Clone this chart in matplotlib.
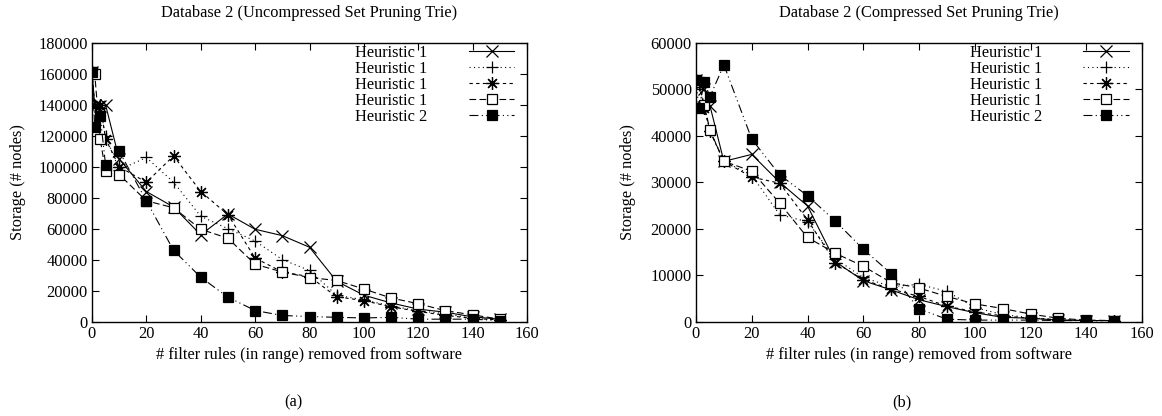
import matplotlib
matplotlib.use("Agg")
import matplotlib.pyplot as plt

plt.rcParams['font.family'] = ['Liberation Serif', 'DejaVu Serif']
plt.rcParams['font.size'] = 11.8

# number of filter rules removed (x axis)
removed = [0, 1, 3, 5, 10, 20, 30, 40, 50, 60, 70, 80, 90, 100, 110, 120, 130, 140, 150]

# uncompressed set pruning trie
unc_h1_cross = [161000, 140000, 139000, 140000, 105000, 84000, 74000, 56000, 69500, 59600,
                55500, 48000, 26000, 17000, 12000, 8000, 6000, 3000, 1500]
unc_h1_plus = [161000, 140000, 138000, 120000, 98000, 106000, 90000, 68000, 60000, 52000,
               40000, 33000, 17000, 14000, 10000, 7000, 5000, 2000, 1000]
unc_h1_star = [161000, 139000, 140000, 118000, 100000, 90000, 107000, 84000, 69000, 41000,
               32000, 29000, 16000, 13500, 9500, 6500, 4000, 2000, 1000]
unc_h1_box = [161000, 160000, 118000, 97000, 95000, 78000, 73500, 59600, 53800, 37000,
              32000, 28400, 26500, 21000, 15200, 11500, 7000, 4300, 1500]
unc_h2 = [161000, 126000, 133000, 101000, 110000, 78000, 46000, 28600, 15700, 7100,
          3900, 3200, 2700, 2300, 2700, 1500, 1500, 1500, 600]

# compressed set pruning trie
cmp_h1_cross = [52000, 51000, 50000, 46500, 34500, 36000, 30000, 24900, 12900, 8800,
                6800, 4700, 3200, 1900, 900, 700, 300, 200, 200]
cmp_h1_plus = [52000, 51000, 46000, 41000, 34500, 31500, 23000, 21500, 13500, 9500,
               7500, 8000, 6500, 3000, 1500, 800, 400, 200, 200]
cmp_h1_star = [52000, 51500, 46000, 41000, 34500, 31100, 29800, 21900, 12700, 9000,
               7000, 5400, 3300, 2100, 1200, 700, 400, 200, 200]
cmp_h1_box = [52000, 51500, 46600, 41200, 34500, 32400, 25500, 18100, 14700, 11900,
              8400, 7200, 5400, 3800, 2800, 1600, 700, 300, 200]
cmp_h2 = [52000, 46000, 51600, 48400, 55300, 39300, 31600, 27100, 21600, 15600,
          10300, 2700, 500, 300, 300, 300, 200, 200, 200]

labels = ["Heuristic 1", "Heuristic 1", "Heuristic 1", "Heuristic 1", "Heuristic 2"]

styles = [
    dict(ls='-', marker='x', ms=8, mfc='black'),
    dict(ls=(0, (1, 3)), marker='+', ms=9, mfc='black'),
    dict(ls=(0, (3, 3)), marker=(8, 2, 0), ms=9, mfc='black'),
    dict(ls=(0, (6, 3)), marker='s', ms=7.5, mfc='white'),
    dict(ls=(0, (8, 3, 1, 3, 1, 3)), marker='s', ms=7.5, mfc='black'),
]


def draw_panel(ax, series, ymax, ystep):
    for vals, lab, st in zip(series, labels, styles):
        ax.plot(removed, vals, color='black', lw=0.8, mec='black', mew=0.9,
                label=lab, **st)
    ax.set_xlim(0, 160)
    ax.set_ylim(0, ymax)
    ax.set_xticks(range(0, 161, 20))
    ax.set_yticks(range(0, ymax + 1, ystep))
    ax.tick_params(direction='in', top=True, right=True, length=5, width=0.8, pad=3)
    for sp in ax.spines.values():
        sp.set_linewidth(1.0)
    ax.legend(loc='upper right', bbox_to_anchor=(0.975, 1.0), frameon=False,
              markerfirst=False, handlelength=2.8, handletextpad=2.5,
              labelspacing=0.0, borderaxespad=0.0, borderpad=0.1)


fig = plt.figure(figsize=(11.62, 4.16), dpi=100)
ax1 = fig.add_axes([92 / 1162, 1 - 321.5 / 416, 435 / 1162, 278.5 / 416])
ax2 = fig.add_axes([696 / 1162, 1 - 321.5 / 416, 446 / 1162, 278.5 / 416])

draw_panel(ax1, [unc_h1_cross, unc_h1_plus, unc_h1_star, unc_h1_box, unc_h2], 180000, 20000)
draw_panel(ax2, [cmp_h1_cross, cmp_h1_plus, cmp_h1_star, cmp_h1_box, cmp_h2], 60000, 10000)

centers = [309.5, 919]
titles = ["Database 2 (Uncompressed Set Pruning Trie)", "Database 2 (Compressed Set Pruning Trie)"]
for cx, t in zip(centers, titles):
    fig.text(cx / 1162, 1 - 13 / 416, t, ha='center', va='center')
    fig.text(cx / 1162, 1 - 355 / 416, "# filter rules (in range) removed from software",
             ha='center', va='center')
for lx in (18, 628):
    fig.text(lx / 1162, 1 - 182 / 416, "Storage (# nodes)", rotation=90,
             ha='center', va='center')

fig.text(293 / 1162, 1 - 402 / 416, "(a)", ha='center', va='center')
fig.text(902 / 1162, 1 - 402 / 416, "(b)", ha='center', va='center')

fig.savefig("out.png", dpi=100)
